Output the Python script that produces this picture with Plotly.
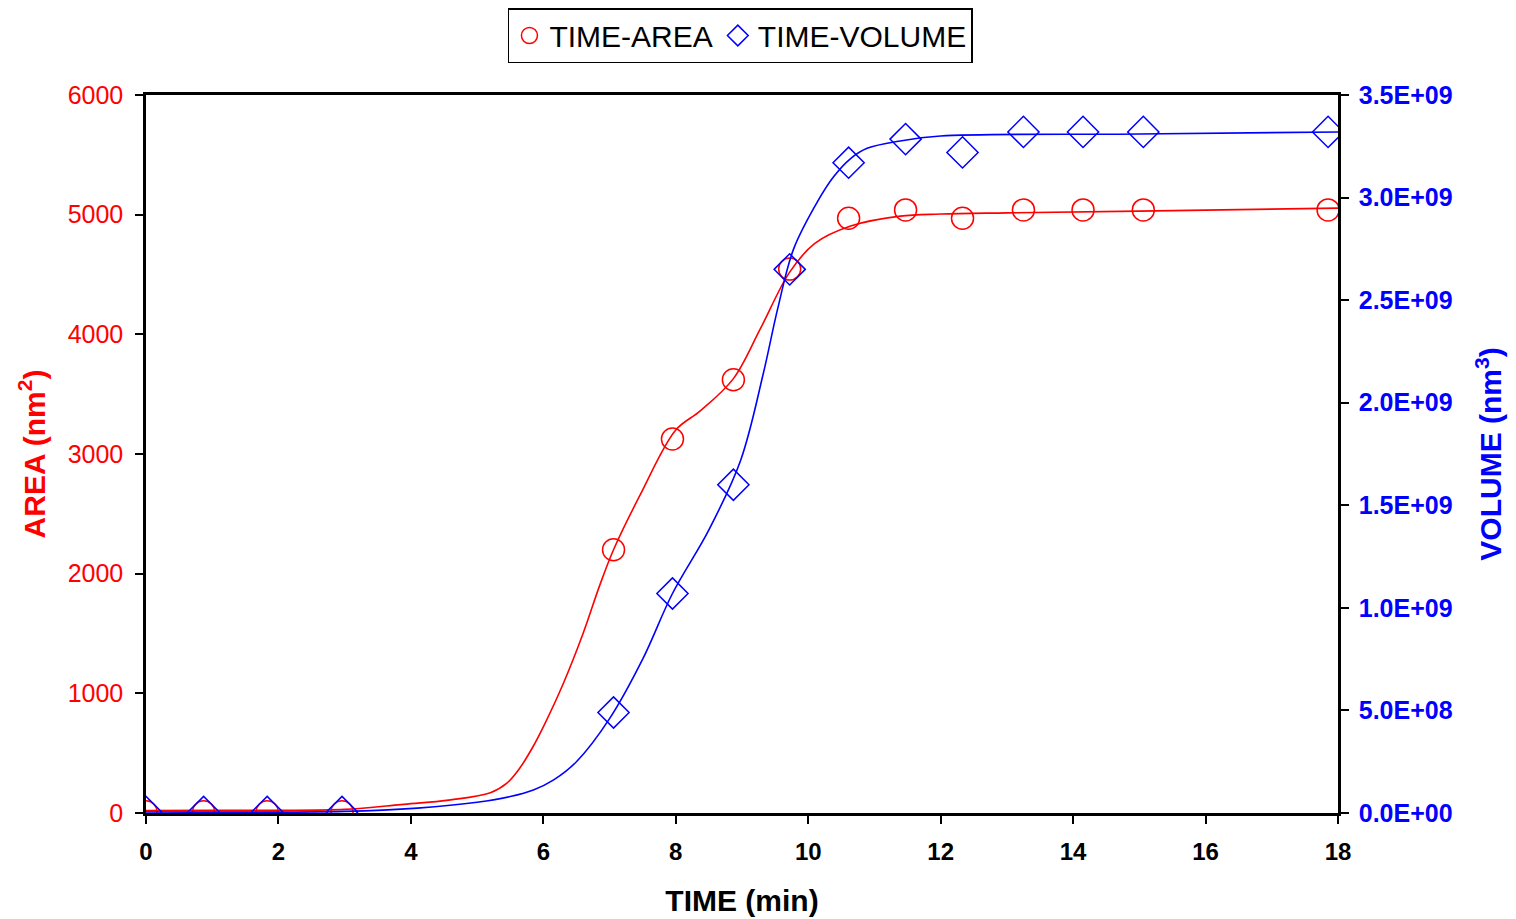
import plotly.graph_objects as go

# Measured points
time_pts = [0, 0.87, 1.83, 2.96, 7.06, 7.95, 8.87, 9.72, 10.61, 11.47, 12.33, 13.25, 14.15, 15.06, 17.85]
area_pts = [10, 10, 10, 10, 2200, 3125, 3620, 4545, 4970, 5040, 4970, 5040, 5040, 5040, 5040]
volume_pts = [5e6, 5e6, 5e6, 5e6, 4.9e8, 1.07e9, 1.6e9, 2.65e9, 3.17e9, 3.285e9, 3.22e9, 3.32e9, 3.32e9, 3.32e9, 3.32e9]

# Fitted curves
area_fit_t = [0, 1, 2, 3, 3.85, 4.6, 5.2, 5.45, 5.65, 5.85, 6.0, 6.3, 6.6, 6.85, 7.06, 7.47, 8.0, 8.37, 8.87, 9.28, 9.72, 10.1, 10.64, 11.39, 12, 13, 15, 18]
area_fit_v = [20, 22, 22, 30, 70, 110, 170, 250, 380, 560, 720, 1080, 1500, 1900, 2200, 2666, 3200, 3360, 3630, 4050, 4520, 4760, 4905, 4988, 5005, 5015, 5030, 5055]
vol_fit_t = [0, 3, 4.1, 5.0, 5.5, 5.85, 6.15, 6.5, 7.0, 7.5, 7.95, 8.5, 8.98, 9.32, 9.54, 9.78, 10.14, 10.38, 10.64, 10.89, 11.39, 12, 15, 18]
vol_fit_v = [5e6, 8e6, 2.4e7, 5.2e7, 8e7, 1.12e8, 1.6e8, 2.5e8, 4.6e8, 7.5e8, 1.07e9, 1.38e9, 1.72e9, 2.14e9, 2.46e9, 2.75e9, 2.98e9, 3.10e9, 3.19e9, 3.24e9, 3.276e9, 3.30e9, 3.31e9, 3.32e9]

x_ticks = [0, 2, 4, 6, 8, 10, 12, 14, 16, 18]
left_ticks = [0, 1000, 2000, 3000, 4000, 5000, 6000]
right_ticks = [0, 5e8, 1e9, 1.5e9, 2e9, 2.5e9, 3e9, 3.5e9]
right_ticktext = ["0.0E+00", "5.0E+08", "1.0E+09", "1.5E+09", "2.0E+09", "2.5E+09", "3.0E+09", "3.5E+09"]

RED = "#FF0000"
BLUE = "#0000FF"
FONT = "Liberation Sans, Arial, sans-serif"

fig = go.Figure()
fig.add_trace(go.Scatter(x=area_fit_t, y=area_fit_v, mode="lines", line=dict(color=RED, width=1.6, shape="spline"),
                         showlegend=False, yaxis="y"))
fig.add_trace(go.Scatter(x=vol_fit_t, y=vol_fit_v, mode="lines", line=dict(color=BLUE, width=1.6, shape="spline"),
                         showlegend=False, yaxis="y2"))
fig.add_trace(go.Scatter(x=time_pts, y=area_pts, mode="markers", name="TIME-AREA",
                         marker=dict(symbol="circle-open", size=22, color=RED, line=dict(width=1.5, color=RED)),
                         yaxis="y"))
fig.add_trace(go.Scatter(x=time_pts, y=volume_pts, mode="markers", name="TIME-VOLUME",
                         marker=dict(symbol="diamond-open", size=24, color=BLUE, line=dict(width=1.5, color=BLUE)),
                         yaxis="y2"))

fig.update_layout(
    width=1516, height=919,
    margin=dict(l=138, r=186, t=87, b=114, autoexpand=False),
    paper_bgcolor="white", plot_bgcolor="white",
    font=dict(family=FONT, color="black"),
    xaxis=dict(range=[0, 18], tickvals=x_ticks, showgrid=False, zeroline=False, automargin=False,
               showline=True, linecolor="black", linewidth=2.5, mirror=True,
               ticks="outside", ticklen=8, tickwidth=2, tickcolor="black",
               tickfont=dict(size=24, color="black", family=FONT, weight="bold"),
               ticklabelstandoff=7,
               title=dict(text="<b>TIME (min)</b>", font=dict(size=30, color="black"), standoff=27)),
    yaxis=dict(range=[0, 6000], tickvals=left_ticks, showgrid=False, zeroline=False, automargin=False,
               showline=True, linecolor="black", linewidth=2.5,
               ticks="outside", ticklen=8, tickwidth=2, tickcolor="black",
               tickfont=dict(size=25, color=RED), ticklabelstandoff=7,
               title=dict(text="<b>AREA (nm<sup>2</sup>)</b>", font=dict(size=30, color=RED), standoff=14)),
    yaxis2=dict(range=[0, 3.5e9], tickvals=right_ticks, ticktext=right_ticktext, overlaying="y", side="right",
                showgrid=False, zeroline=False, automargin=False,
                showline=True, linecolor="black", linewidth=2.5,
                ticks="outside", ticklen=8, tickwidth=2, tickcolor="black",
                tickfont=dict(size=25, color=BLUE, weight="bold"), ticklabelstandoff=5,
                title=dict(text="<b>VOLUME (nm<sup>3</sup>)</b>", font=dict(size=30, color=BLUE), standoff=29)),
    legend=dict(orientation="h", x=0.4987, xanchor="center", xref="paper",
                y=1.0, yanchor="top", yref="container",
                bordercolor="black", borderwidth=1.5, bgcolor="white",
                font=dict(size=30, color="black"), itemwidth=30, tracegroupgap=0),
)

fig.write_html("out.html")
